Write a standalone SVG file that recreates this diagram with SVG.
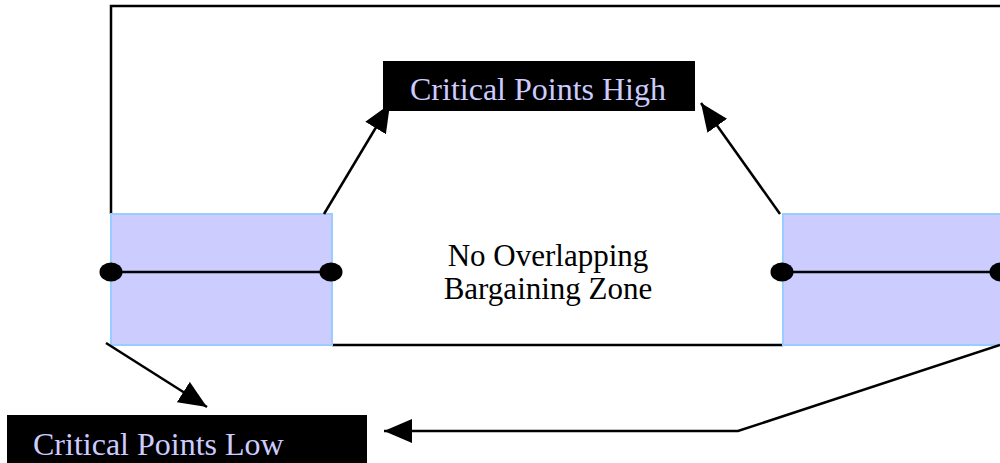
<svg xmlns="http://www.w3.org/2000/svg" width="1000" height="463" viewBox="0 0 1000 463">
<style>
.zone{fill:#ccccff;stroke:#99ccff;stroke-width:2}
.ln{fill:none;stroke:#000;stroke-width:2.5}
.con{fill:none;stroke:#000;stroke-width:2.5}
.dot{fill:#000}
.lbl{fill:#000}
.lt{font-family:"Liberation Serif","Times New Roman",serif;font-size:32px;fill:#ccccff}
.ct{font-family:"Liberation Serif","Times New Roman",serif;font-size:31px;fill:#000;text-anchor:middle}
</style>
<defs>
<marker id="ah" markerUnits="userSpaceOnUse" markerWidth="30" markerHeight="24" viewBox="0 0 30 24" refX="28" refY="12" orient="auto">
<path d="M0,0 L28,12 L0,24 Z" fill="#000"/>
</marker>
</defs>
<rect width="1000" height="463" fill="#fff"/>
<g id="frame">
<polyline class="ln" points="111,214 111,6 1002,6"/>
<line class="ln" x1="332" y1="345" x2="783" y2="345"/>
</g>
<g id="zone-left">
<rect class="zone" x="111" y="214" width="221" height="131"/>
<line class="ln" x1="111" y1="272" x2="331" y2="272"/>
<ellipse class="dot" cx="111" cy="272" rx="11.5" ry="9.5"/>
<ellipse class="dot" cx="331" cy="272" rx="11.5" ry="9.5"/>
</g>
<g id="zone-right">
<rect class="zone" x="783" y="214" width="230" height="131"/>
<line class="ln" x1="782" y1="272" x2="1000" y2="272"/>
<ellipse class="dot" cx="782" cy="272" rx="11.5" ry="9.5"/>
<ellipse class="dot" cx="1001" cy="272" rx="11.5" ry="9.5"/>
</g>
<g id="center-label">
<text class="ct" x="548" y="266">No Overlapping</text>
<text class="ct" x="548" y="299">Bargaining Zone</text>
</g>
<g id="critical-high">
<rect class="lbl" x="383" y="61" width="312" height="50"/>
<text class="lt" x="410" y="100">Critical Points High</text>
</g>
<g id="critical-low">
<rect class="lbl" x="7" y="415" width="360" height="50"/>
<text class="lt" x="33" y="455">Critical Points Low</text>
</g>
<g id="connectors">
<line class="con" x1="324" y1="214" x2="390" y2="104" marker-end="url(#ah)"/>
<line class="con" x1="780" y1="214" x2="701" y2="103" marker-end="url(#ah)"/>
<line class="con" x1="106" y1="343" x2="207" y2="407" marker-end="url(#ah)"/>
<polyline class="con" points="1000,345 738,431 384,431" marker-end="url(#ah)"/>
</g>
</svg>
